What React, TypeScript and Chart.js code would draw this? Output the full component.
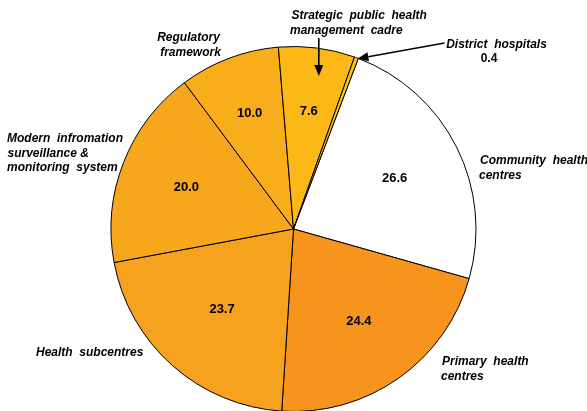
import React, { useEffect, useRef } from "react";
import { Chart, registerables } from "chart.js";

Chart.register(...registerables);

const categories = [
  "Community health centres",
  "Primary health centres",
  "Health subcentres",
  "Modern infromation surveillance & monitoring system",
  "Regulatory framework",
  "Strategic public health management cadre",
  "District hospitals",
];
const values = [26.6, 24.4, 23.7, 20.0, 10.0, 7.6, 0.4];
const valueLabels = ["26.6", "24.4", "23.7", "20.0", "10.0", "7.6", "0.4"];
const colors = ["#FFFFFF", "#F7941D", "#F7A21F", "#F6A71C", "#F8AD1A", "#FBB817", "#FFC20E"];

// label layout relative to the pie centre (dx, dy of each text line)
const valueRadiusFrac = [0.62, 0.62, 0.59, 0.63, 0.68, 0.65, 0];
const nameLayout = [
  { lines: ["Community  health", "centres"], align: "left", pts: [[186.5, -65], [185.5, -50.5]] },
  { lines: ["Primary  health", "centres"], align: "left", pts: [[148.5, 136], [147.5, 150.5]] },
  { lines: ["Health  subcentres"], align: "left", pts: [[-257.5, 127]] },
  { lines: ["Modern  infromation", "surveillance &", "monitoring  system"], align: "left", pts: [[-286.5, -87.5], [-286, -72.5], [-286.5, -58]] },
  { lines: ["Regulatory", "framework"], align: "center", pts: [[-105, -188.5], [-103, -173.5]] },
  { lines: ["Strategic  public  health", "management  cadre"], align: "left", pts: [[-2, -210.5], [-3.5, -195]] },
  { lines: ["District  hospitals", "0.4"], align: "center", pts: [[203, -181.5], [195.5, -167]] },
];

function arrow(ctx: CanvasRenderingContext2D, x1: number, y1: number, x2: number, y2: number) {
  const a = Math.atan2(y2 - y1, x2 - x1);
  const hl = 11, hw = 4.5;
  const bx = x2 - Math.cos(a) * hl, by = y2 - Math.sin(a) * hl;
  ctx.save();
  ctx.strokeStyle = "#000";
  ctx.fillStyle = "#000";
  ctx.lineWidth = 1.6;
  ctx.beginPath();
  ctx.moveTo(x1, y1);
  ctx.lineTo(bx, by);
  ctx.stroke();
  ctx.beginPath();
  ctx.moveTo(x2, y2);
  ctx.lineTo(bx + Math.sin(a) * hw, by - Math.cos(a) * hw);
  ctx.lineTo(bx - Math.sin(a) * hw, by + Math.cos(a) * hw);
  ctx.closePath();
  ctx.fill();
  ctx.restore();
}

const labelPlugin = {
  id: "pieLabels",
  afterDatasetsDraw(chart: any) {
    const ctx: CanvasRenderingContext2D = chart.ctx;
    const meta = chart.getDatasetMeta(0);
    const arcs = meta.data;
    if (!arcs.length) return;
    const cx = arcs[0].x, cy = arcs[0].y;
    ctx.save();
    ctx.fillStyle = "#000";
    // values inside
    ctx.font = "bold 13px 'Liberation Sans', Arial, sans-serif";
    ctx.textAlign = "center";
    ctx.textBaseline = "middle";
    arcs.forEach((arc: any, i: number) => {
      if (!valueRadiusFrac[i]) return;
      const mid = (arc.startAngle + arc.endAngle) / 2;
      const r = arc.outerRadius * valueRadiusFrac[i];
      ctx.fillText(valueLabels[i], cx + Math.cos(mid) * r, cy + Math.sin(mid) * r);
    });
    // category names
    ctx.textBaseline = "alphabetic";
    nameLayout.forEach((lay, i) => {
      lay.lines.forEach((line, j) => {
        const isValue = i === 6 && j === 1;
        ctx.font = isValue
          ? "bold 12px 'Liberation Sans', Arial, sans-serif"
          : "italic bold 12px 'Liberation Sans', Arial, sans-serif";
        ctx.textAlign = lay.align as CanvasTextAlign;
        ctx.fillText(line, cx + lay.pts[j][0], cy + lay.pts[j][1]);
      });
    });
    // arrows
    const s = arcs[5];
    const sm = (s.startAngle + s.endAngle) / 2 + 0.035;
    const sx = cx + Math.cos(sm) * s.outerRadius * 0.85;
    const sy = cy + Math.sin(sm) * s.outerRadius * 0.85;
    arrow(ctx, sx, cy - 191, sx, sy);
    const d = arcs[6];
    const dm = (d.startAngle + d.endAngle) / 2;
    const dx = cx + Math.cos(dm) * d.outerRadius;
    const dy = cy + Math.sin(dm) * d.outerRadius;
    arrow(ctx, cx + 151, cy - 186, dx + 1, dy + 1);
    ctx.restore();
  },
};

export default function App() {
  const ref = useRef<HTMLCanvasElement>(null);
  useEffect(() => {
    document.body.style.margin = "0";
    document.body.style.overflow = "hidden";
    const chart = new Chart(ref.current!, {
      type: "pie",
      data: {
        labels: categories,
        datasets: [
          {
            data: values,
            backgroundColor: colors,
            borderColor: "#000",
            borderWidth: 1,
          },
        ],
      },
      options: {
        animation: false,
        responsive: false,
        rotation: 20.8,
        layout: { padding: { top: 46, bottom: 48, left: 0, right: 0 } },
        plugins: {
          legend: { display: false },
          tooltip: { enabled: false },
        },
      },
      plugins: [labelPlugin],
    });
    return () => chart.destroy();
  }, []);
  return (
    <div style={{ width: 587, height: 411, overflow: "hidden", background: "#fff" }}>
      <canvas ref={ref} width={587} height={460} style={{ display: "block" }} />
    </div>
  );
}
